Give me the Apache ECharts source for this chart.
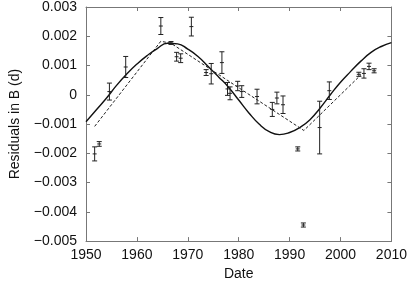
<!DOCTYPE html>
<html>
<head>
<meta charset="utf-8">
<script src="https://cdn.jsdelivr.net/npm/echarts@6/dist/echarts.min.js"></script>
<style>html,body{margin:0;padding:0;background:#fff}#c{width:410px;height:286px}</style>
</head>
<body>
<div id="c"></div>
<script>
// Observed residuals: year, value, error
const obsYears = [1951.7,1952.6,1954.6,1957.8,1964.7,1966.7,1967.8,1968.6,1970.7,1973.6,1974.6,1976.7,1977.8,1978.3,1979.8,1980.6,1983.6,1986.6,1987.5,1988.7,1991.6,1992.7,1995.9,1997.8,2003.6,2004.6,2005.6,2006.6];
const obsValues = [-0.00202,-0.00168,0.00011,0.00095,0.00235,0.00177,0.00130,0.00125,0.00233,0.00076,0.00072,0.00110,0.00020,0.00005,0.00030,0.00011,-0.00006,-0.00050,-0.00011,-0.00034,-0.00185,-0.00445,-0.00112,0.00014,0.00070,0.00073,0.00097,0.00082];
const obsErrors = [0.00024,0.00008,0.00029,0.00036,0.00029,0.00005,0.00015,0.00015,0.00032,0.00010,0.00035,0.00037,0.00022,0.00022,0.00016,0.00020,0.00025,0.00024,0.00020,0.00030,0.00007,0.00007,0.00090,0.00030,0.00007,0.00016,0.00011,0.00007];

// Solid (sinusoidal) model curve
const sinYears = [1950,1952,1954,1956,1958,1960,1962,1964,1966,1968,1970,1972,1974,1976,1978,1980,1982,1984,1986,1988,1990,1992,1994,1996,1998,2000,2002,2004,2006,2008,2010];
const sinValues = [-0.00092,-0.00052,-0.00012,0.00032,0.00071,0.00105,0.00134,0.00158,0.00176,0.00174,0.00156,0.00131,0.00097,0.00062,0.00026,-0.00018,-0.00062,-0.00100,-0.00126,-0.00136,-0.00129,-0.00112,-0.00085,-0.00045,0.00000,0.00043,0.00080,0.00115,0.00145,0.00165,0.00178];

// Dashed (piecewise linear) model
const linYears = [1951.7,1964.7,1966.7,1992.8,2004.0];
const linValues = [-0.00108,0.00183,0.00176,-0.00122,0.00068];

const xTicks = [1950,1960,1970,1980,1990,2000,2010];
const yTicks = [-0.005,-0.004,-0.003,-0.002,-0.001,0,0.001,0.002,0.003];

const FONT = 'Liberation Sans, Arial, sans-serif';
function fmtY(v){
  if (Math.abs(v) < 1e-12) return '0';
  const s = Math.abs(v).toFixed(3);
  return (v < 0 ? '\u2212' : '') + s;
}

const obsData = obsYears.map((y,i)=>[y, obsValues[i], obsErrors[i]]);
const sinData = sinYears.map((y,i)=>[y, sinValues[i]]);
const linData = linYears.map((y,i)=>[y, linValues[i]]);

const axisLine = {show:true, onZero:false, lineStyle:{color:'#777', width:1}};
const tick = {show:true, inside:true, length:4, lineStyle:{color:'#777'}};
const chart = echarts.init(document.getElementById('c'), null, {renderer:'canvas'});
chart.setOption({
  animation:false,
  backgroundColor:'#fff',
  grid:{left:79, right:17, top:6, bottom:42},
  xAxis:[{
    type:'value', min:xTicks[0], max:xTicks[xTicks.length-1], interval:10,
    axisLine:axisLine, splitLine:{show:false}, axisTick:tick,
    axisLabel:{color:'#111', fontSize:14, fontFamily:FONT, margin:7, formatter:v=>String(v)},
    name:'Date', nameLocation:'middle', nameGap:25,
    nameTextStyle:{color:'#111', fontSize:14, fontFamily:FONT}
  },{
    type:'value', position:'top', min:xTicks[0], max:xTicks[xTicks.length-1], interval:10,
    axisLine:axisLine, splitLine:{show:false}, axisTick:tick,
    axisLabel:{show:false}
  }],
  yAxis:[{
    type:'value', min:yTicks[0], max:yTicks[yTicks.length-1], interval:0.001,
    axisLine:axisLine, splitLine:{show:false}, axisTick:tick,
    axisLabel:{color:'#111', fontSize:14, fontFamily:FONT, margin:9, formatter:fmtY},
    name:'Residuals in B (d)', nameLocation:'middle', nameGap:64, nameRotate:90,
    nameTextStyle:{color:'#111', fontSize:14, fontFamily:FONT}
  },{
    type:'value', position:'right', min:yTicks[0], max:yTicks[yTicks.length-1], interval:0.001,
    axisLine:axisLine, splitLine:{show:false}, axisTick:tick,
    axisLabel:{show:false}
  }],
  series:[
    {type:'line', data:sinData, smooth:0.5, symbol:'none', xAxisIndex:0, yAxisIndex:0,
     lineStyle:{color:'#111', width:1.4}, z:2},
    {type:'line', data:linData, smooth:false, symbol:'none', xAxisIndex:0, yAxisIndex:0,
     lineStyle:{color:'#222', width:1, type:[3,2]}, z:2},
    {type:'custom', data:obsData, xAxisIndex:0, yAxisIndex:0, z:3,
     renderItem:function(params, api){
       const x = api.value(0), v = api.value(1), e = api.value(2);
       const c = api.coord([x, v]);
       const t = api.coord([x, v + e]);
       const b = api.coord([x, v - e]);
       const st = {stroke:'#222', lineWidth:1};
       const w = 2.5;
       return {type:'group', children:[
         {type:'line', shape:{x1:c[0], y1:t[1], x2:c[0], y2:b[1]}, style:st},
         {type:'line', shape:{x1:c[0]-w, y1:t[1], x2:c[0]+w, y2:t[1]}, style:st},
         {type:'line', shape:{x1:c[0]-w, y1:b[1], x2:c[0]+w, y2:b[1]}, style:st},
         {type:'line', shape:{x1:c[0]-2, y1:c[1], x2:c[0]+2, y2:c[1]}, style:st}
       ]};
     }}
  ]
});
</script>
</body>
</html>
